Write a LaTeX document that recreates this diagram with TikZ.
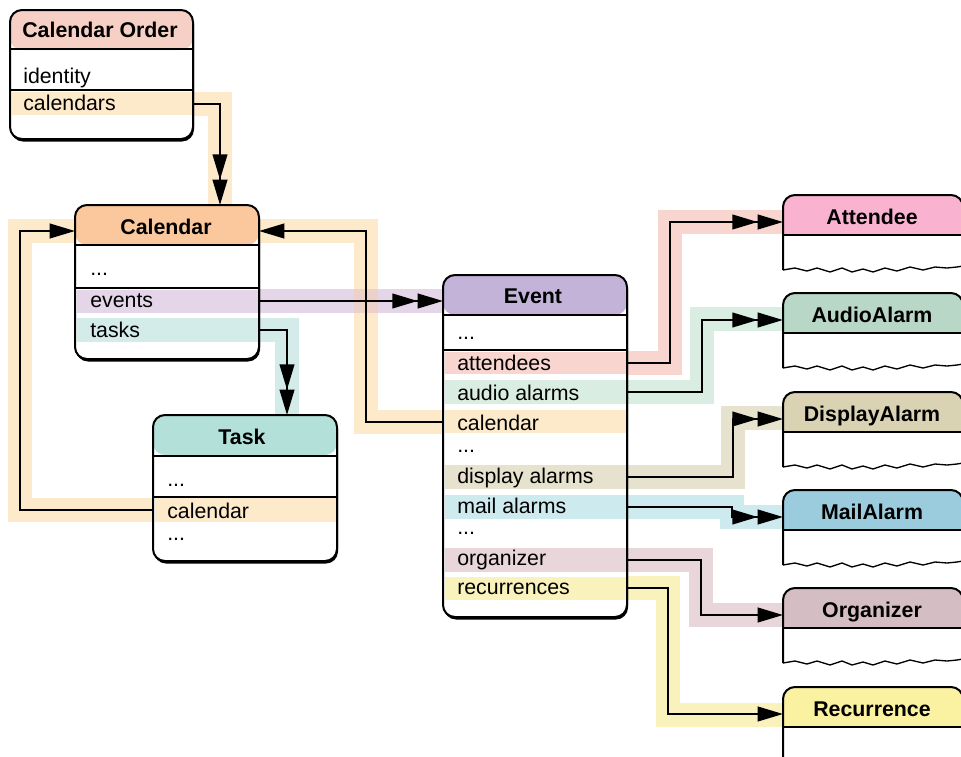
\documentclass[tikz,border=0pt]{standalone}
\usepackage{fontspec}
\setmainfont{Liberation Sans}
\usetikzlibrary{arrows.meta}
\definecolor{hdOrder}{HTML}{F6D0C4}
\definecolor{hdCal}{HTML}{FAC89C}
\definecolor{hdTask}{HTML}{B3E0D9}
\definecolor{hdEvent}{HTML}{C3B3D9}
\definecolor{hdAtt}{HTML}{F9B3D0}
\definecolor{hdAudio}{HTML}{B8D7C6}
\definecolor{hdDisp}{HTML}{D9D3B4}
\definecolor{hdMail}{HTML}{9BCCDE}
\definecolor{hdOrg}{HTML}{D4BEC3}
\definecolor{hdRec}{HTML}{FAF1A1}
\definecolor{bdOrange}{HTML}{FDEACB}
\definecolor{bdPurple}{HTML}{E5D5E9}
\definecolor{bdTeal}{HTML}{D3ECEA}
\definecolor{bdAtt}{HTML}{F8D5CF}
\definecolor{bdAudio}{HTML}{D9EDE2}
\definecolor{bdDisp}{HTML}{E7E2CD}
\definecolor{bdMail}{HTML}{CDEAEF}
\definecolor{bdOrg}{HTML}{E8D6DB}
\definecolor{bdRec}{HTML}{FAF2BC}
\definecolor{bdCross}{HTML}{EDD0C8}
\newcommand{\rpath}[1]{(783,#1+75) [rounded corners=9pt] -- (783,#1) -- (963,#1) -- (963,#1+71) [sharp corners] -- (957,#1+72) -- (947,#1+73) -- (935,#1+72) -- (923,#1+75) -- (910,#1+72) -- (897,#1+76) -- (885,#1+73) -- (873,#1+77) -- (863,#1+74) -- (852,#1+77) -- (842,#1+73) -- (830,#1+77) -- (817,#1+73) -- (807,#1+76) -- (795,#1+73) -- (783,#1+75) -- cycle}
\newcommand{\rightent}[4]{%
  \fill[white] \rpath{#2};
  \begin{scope}
    \clip \rpath{#2};
    \fill[#3] (780,#2-2) rectangle (970,#2+40);
  \end{scope}
  \draw[boxline] (783,#2+75) [rounded corners=9pt] -- (783,#2) -- (963,#2) -- (963,#2+75);
  \draw[boxline] (783,#2+40) -- (963,#2+40);
  \draw[wavyline] (963,#2+71) -- (957,#2+72) -- (947,#2+73) -- (935,#2+72) -- (923,#2+75) -- (910,#2+72) -- (897,#2+76) -- (885,#2+73) -- (873,#2+77) -- (863,#2+74) -- (852,#2+77) -- (842,#2+73) -- (830,#2+77) -- (817,#2+73) -- (807,#2+76) -- (795,#2+73) -- (783,#2+75);
  \node[headtext] (#1) at (872,#2+29) {#4};
  \coordinate (#1-in) at (783,#2+27);
}
\begin{document}
\begin{tikzpicture}[x=0.75pt,y=-0.75pt,
  entity/.style={draw, line width=1.5pt, rounded corners=9pt, fill=white, inner sep=0pt, outer sep=0pt, anchor=north west,
    path picture={\fill[#1] (path picture bounding box.north west) rectangle ([yshift=-30pt]path picture bounding box.north east);}},
  boxline/.style={line width=1.5pt},
  sepline/.style={line width=1.2pt},
  wavyline/.style={line width=1pt},
  band/.style={line width=18pt, line join=miter, line cap=butt},
  conn/.style={line width=1.5pt, line join=miter},
  one/.style={-{Triangle[length=19pt,width=11pt]}},
  many/.style={-{Triangle[length=19pt,width=11pt]Triangle[length=19pt,width=11pt]}},
  rowtext/.style={anchor=base west, inner sep=0pt, font=\fontsize{16}{19}\selectfont},
  headtext/.style={anchor=base, inner sep=0pt, font=\fontsize{16}{19}\selectfont\bfseries}]
\useasboundingbox (0,0) rectangle (961,757);
\fill[white] (0,0) rectangle (961,757);

% connection end points
\coordinate (co-cals) at (193,104);
\coordinate (cal-top) at (220,205);
\coordinate (cal-left) at (75,231);
\coordinate (cal-right) at (259,231);
\coordinate (cal-ev) at (259,301);
\coordinate (cal-tasks) at (259,330);
\coordinate (task-top) at (287,415);
\coordinate (task-cal) at (153,510);
\coordinate (ev-in) at (443,301);
\coordinate (ev-cal) at (443,422);
\coordinate (ev-att) at (627,363);
\coordinate (ev-aud) at (627,392);
\coordinate (ev-disp) at (627,477);
\coordinate (ev-mail) at (627,507);
\coordinate (ev-org) at (627,560);
\coordinate (ev-rec) at (627,588);
\coordinate (att-in) at (783,222);
\coordinate (aud-in) at (783,319);
\coordinate (disp-in) at (783,418);
\coordinate (mail-in) at (783,517);
\coordinate (org-in) at (783,615);
\coordinate (rec-in) at (783,715);

% highlight bands
\draw[band, bdOrange] (co-cals) -| (cal-top);
\draw[band, bdOrange] (task-cal) -- ++(-133,0) |- (cal-left);
\draw[band, bdOrange] (ev-cal) -- ++(-77,0) |- (cal-right);
\draw[band, bdPurple] (cal-ev) -- (ev-in);
\fill[bdCross] (354,289) rectangle (378,313);
\draw[band, bdTeal] (cal-tasks) -| (task-top);
\draw[band, bdAtt] (ev-att) -- ++(43,0) |- (att-in);
\draw[band, bdAudio] (ev-aud) -- ++(75,0) |- (aud-in);
\draw[band, bdDisp] (ev-disp) -- ++(106,0) |- (disp-in);
\draw[band, bdMail] (ev-mail) -- ++(105,0) |- (mail-in);
\draw[band, bdOrg] (ev-org) -- ++(74,0) |- (org-in);
\draw[band, bdRec] (ev-rec) -- ++(41,0) |- (rec-in);

% Calendar Order
\fill[rounded corners=9pt] (11,12.5) rectangle (194,141.5);
\node[entity=hdOrder, minimum width=137.25pt, minimum height=96.75pt] (order) at (10,10) {};
\fill[bdOrange] (11.5,92) rectangle (192,115);
\draw[boxline] (10,49) -- (193,49);
\draw[sepline] (10,90) -- (193,90);
\node[headtext] (orderT) at (100,37) {Calendar Order};
\node[rowtext] (orderId) at (23,83) {identity};
\node[rowtext] (orderCals) at (23,110) {calendars};

% Calendar
\fill[rounded corners=9pt] (76,207.5) rectangle (260,361.5);
\node[entity=hdCal, minimum width=138pt, minimum height=115.5pt] (cal) at (75,205) {};
\fill[bdPurple] (76.5,290) rectangle (258,313);
\fill[bdTeal] (76.5,318) rectangle (258,342);
\draw[boxline] (75,245) -- (259,245);
\draw[sepline] (75,288) -- (259,288);
\node[headtext] (calT) at (166,234) {Calendar};
\node[rowtext] (calDots) at (90,275) {...};
\node[rowtext] (calEv) at (90,307) {events};
\node[rowtext] (calTasks) at (90,337) {tasks};

% Task
\fill[rounded corners=9pt] (154,417.5) rectangle (338,563.5);
\node[entity=hdTask, minimum width=138pt, minimum height=109.5pt] (task) at (153,415) {};
\fill[bdOrange] (154.5,498) rectangle (336,522);
\draw[boxline] (153,456) -- (337,456);
\draw[sepline] (153,497) -- (337,497);
\node[headtext] (taskT) at (242,444) {Task};
\node[rowtext] (taskD1) at (167,486) {...};
\node[rowtext] (taskCal) at (167,518) {calendar};
\node[rowtext] (taskD2) at (167,540) {...};

% Event
\fill[rounded corners=9pt] (444,277.5) rectangle (628,619.5);
\node[entity=hdEvent, minimum width=138pt, minimum height=256.5pt] (event) at (443,275) {};
\fill[bdAtt] (444.5,352) rectangle (626,374);
\fill[bdAudio] (444.5,380) rectangle (626,404);
\fill[bdOrange] (444.5,410) rectangle (626,433);
\fill[bdDisp] (444.5,465) rectangle (626,489);
\fill[bdMail] (444.5,495) rectangle (626,519);
\fill[bdOrg] (444.5,548) rectangle (626,572);
\fill[bdRec] (444.5,577) rectangle (626,600);
\draw[boxline] (443,315) -- (627,315);
\draw[sepline] (443,350) -- (627,350);
\node[headtext] (eventT) at (533,303) {Event};
\node[rowtext] (evD1) at (457,339) {...};
\node[rowtext] (evAtt) at (457,370.5) {attendees};
\node[rowtext] (evAud) at (457,400) {audio alarms};
\node[rowtext] (evCal) at (457,430) {calendar};
\node[rowtext] (evD2) at (457,452.5) {...};
\node[rowtext] (evDisp) at (457,483) {display alarms};
\node[rowtext] (evMail) at (457,513) {mail alarms};
\node[rowtext] (evD3) at (457,534) {...};
\node[rowtext] (evOrg) at (457,565) {organizer};
\node[rowtext] (evRec) at (457,594) {recurrences};

% right entities
\rightent{att}{195}{hdAtt}{Attendee}
\rightent{aud}{293}{hdAudio}{AudioAlarm}
\rightent{disp}{392}{hdDisp}{DisplayAlarm}
\rightent{mail}{490}{hdMail}{MailAlarm}
\rightent{org}{588}{hdOrg}{Organizer}
\rightent{rec}{687}{hdRec}{Recurrence}

% connectors
\draw[conn, many] (co-cals) -| (cal-top);
\draw[conn, one] (task-cal) -- ++(-133,0) |- (cal-left);
\draw[conn, one] (ev-cal) -- ++(-77,0) |- (cal-right);
\draw[conn, many] (cal-ev) -- (ev-in);
\draw[conn, many] (cal-tasks) -| (task-top);
\draw[conn, many] (ev-att) -- ++(43,0) |- (att-in);
\draw[conn, many] (ev-aud) -- ++(75,0) |- (aud-in);
\draw[conn, many] (ev-disp) -- ++(106,0) |- (disp-in);
\draw[conn, many] (ev-mail) -- ++(105,0) |- (mail-in);
\draw[conn, one] (ev-org) -- ++(74,0) |- (org-in);
\draw[conn, one] (ev-rec) -- ++(41,0) |- (rec-in);
\end{tikzpicture}
\end{document}
